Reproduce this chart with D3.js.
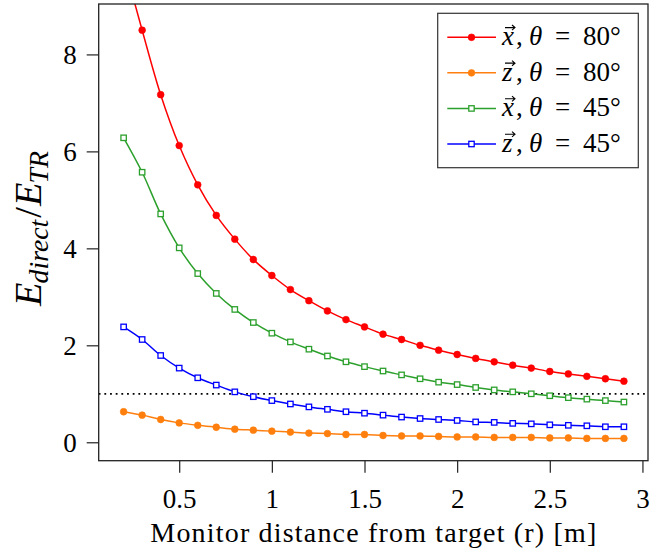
<!DOCTYPE html>
<html>
<head>
<meta charset="utf-8">
<script src="https://cdn.jsdelivr.net/npm/d3@7"></script>
<style>
  html, body { margin: 0; padding: 0; background: #fff; }
  svg { display: block; }
  text { font-family: "Liberation Serif", "DejaVu Serif", serif; fill: #000; }
</style>
</head>
<body>
<svg id="chart" width="671" height="553"></svg>
<script>
// ---------------- data ----------------
const distances = [0.2, 0.3, 0.4, 0.5, 0.6, 0.7, 0.8, 0.9, 1.0, 1.1, 1.2, 1.3, 1.4, 1.5,
                   1.6, 1.7, 1.8, 1.9, 2.0, 2.1, 2.2, 2.3, 2.4, 2.5, 2.6, 2.7, 2.8, 2.9];
const xTheta80 = [9.9, 8.50, 7.17, 6.12, 5.31, 4.68, 4.19, 3.77, 3.44, 3.15, 2.92, 2.71, 2.53, 2.38,
                  2.23, 2.12, 2.00, 1.90, 1.81, 1.73, 1.66, 1.59, 1.53, 1.46, 1.41, 1.36, 1.31, 1.26];
const zTheta80 = [0.63, 0.56, 0.47, 0.40, 0.35, 0.31, 0.27, 0.25, 0.23, 0.21, 0.19, 0.18, 0.16, 0.16,
                  0.14, 0.13, 0.13, 0.12, 0.11, 0.11, 0.10, 0.10, 0.10, 0.09, 0.09, 0.08, 0.08, 0.08];
const xTheta45 = [6.28, 5.57, 4.71, 4.01, 3.48, 3.07, 2.74, 2.47, 2.25, 2.07, 1.92, 1.78, 1.66, 1.56,
                  1.47, 1.39, 1.31, 1.24, 1.19, 1.13, 1.08, 1.04, 1.00, 0.96, 0.92, 0.89, 0.86, 0.83];
const zTheta45 = [2.38, 2.12, 1.79, 1.53, 1.33, 1.18, 1.04, 0.94, 0.86, 0.79, 0.73, 0.68, 0.63, 0.60,
                  0.56, 0.52, 0.49, 0.47, 0.45, 0.42, 0.41, 0.39, 0.38, 0.36, 0.35, 0.34, 0.32, 0.32];
const referenceLevel = 1;
const xTicks = [0.5, 1, 1.5, 2, 2.5, 3];
const xTickLabels = ["0.5", "1", "1.5", "2", "2.5", "3"];
const yTicks = [0, 2, 4, 6, 8];
const yTickLabels = ["0", "2", "4", "6", "8"];
const seriesNames = [
  {vec: "x", theta: "80"},
  {vec: "z", theta: "80"},
  {vec: "x", theta: "45"},
  {vec: "z", theta: "45"}
];
const seriesColors = ["#ff0000", "#ff7f0e", "#2ca02c", "#0000ff"];
const seriesMarkers = ["circle", "circle", "square", "square"];
const seriesValues = [xTheta80, zTheta80, xTheta45, zTheta45];
const xDomain = [0.0655, 3.03];
const yDomain = [-0.38, 9.04];
const xLabelText = "Monitor distance from target (r) [m]";

// ---------------- layout ----------------
const svg = d3.select("#chart");
const plot = {left: 98.7, right: 648, top: 4, bottom: 460.7};

const x = d3.scaleLinear().domain(xDomain).range([plot.left, plot.right]);
const y = d3.scaleLinear().domain(yDomain).range([plot.bottom, plot.top]);

svg.append("defs").append("clipPath").attr("id", "clip")
  .append("rect")
  .attr("x", plot.left).attr("y", plot.top)
  .attr("width", plot.right - plot.left).attr("height", plot.bottom - plot.top);

// reference dotted line
svg.append("line")
  .attr("x1", plot.left).attr("x2", plot.right)
  .attr("y1", y(referenceLevel)).attr("y2", y(referenceLevel))
  .attr("stroke", "#000").attr("stroke-width", 1.8)
  .attr("stroke-dasharray", "1.8 3.87");

const dataG = svg.append("g").attr("clip-path", "url(#clip)");
const line = d3.line().curve(d3.curveCatmullRom.alpha(0.5))
  .x(d => x(d[0])).y(d => y(d[1]));

function drawMarker(g, type, cx, cy, color) {
  if (type === "circle") {
    g.append("circle").attr("cx", cx).attr("cy", cy).attr("r", 3.4)
      .attr("fill", color).attr("stroke", color).attr("stroke-width", 0.6);
  } else {
    const s = 5.4;
    g.append("rect").attr("x", cx - s / 2).attr("y", cy - s / 2)
      .attr("width", s).attr("height", s)
      .attr("fill", "#fff").attr("stroke", color).attr("stroke-width", 1.3);
  }
}

seriesValues.forEach((vals, i) => {
  const pts = distances.map((d, k) => [d, vals[k]]);
  dataG.append("path").datum(pts)
    .attr("d", line)
    .attr("fill", "none")
    .attr("stroke", seriesColors[i])
    .attr("stroke-width", 1.5);
  const mg = dataG.append("g");
  pts.forEach(p => drawMarker(mg, seriesMarkers[i], x(p[0]), y(p[1]), seriesColors[i]));
});

// frame
svg.append("rect")
  .attr("x", plot.left).attr("y", plot.top)
  .attr("width", plot.right - plot.left).attr("height", plot.bottom - plot.top)
  .attr("fill", "none").attr("stroke", "#222").attr("stroke-width", 1.3);

// axes
const xAxis = d3.axisBottom(x).tickValues(xTicks)
  .tickFormat((d, i) => xTickLabels[i]).tickSize(12).tickPadding(8);
const gx = svg.append("g").attr("transform", `translate(0,${plot.bottom})`).call(xAxis);
gx.select(".domain").remove();
gx.selectAll(".tick line").attr("stroke", "#222").attr("stroke-width", 1.2);
gx.selectAll(".tick text").attr("font-size", 27).attr("font-family", "Liberation Serif").attr("dy", "1.0em");

const yAxis = d3.axisLeft(y).tickValues(yTicks)
  .tickFormat((d, i) => yTickLabels[i]).tickSize(12).tickPadding(10);
const gy = svg.append("g").attr("transform", `translate(${plot.left},0)`).call(yAxis);
gy.select(".domain").remove();
gy.selectAll(".tick line").attr("stroke", "#222").attr("stroke-width", 1.2);
gy.selectAll(".tick text").attr("font-size", 27).attr("font-family", "Liberation Serif").attr("dy", "0.34em");

// x label, widened with letter spacing to the reference's extent
const xl = svg.append("text")
  .attr("x", (plot.left + plot.right) / 2).attr("y", 542)
  .attr("text-anchor", "middle").attr("font-size", 28)
  .text(xLabelText);
{
  const w = xl.node().getComputedTextLength();
  const target = 446;
  const ls = (target - w) / (xLabelText.length - 1);
  xl.attr("letter-spacing", ls).attr("x", (plot.left + plot.right) / 2 + ls / 2);
}

// y label: E_direct / E_TR
const yl = svg.append("text")
  .attr("transform", "translate(40.5,228.5) rotate(-90)")
  .attr("text-anchor", "middle").attr("font-size", 36);
yl.append("tspan").attr("font-style", "italic").text("E");
yl.append("tspan").attr("font-style", "italic").attr("font-size", 26).attr("dy", 7).attr("dx", -1).text("direct");
yl.append("tspan").attr("dy", -7).attr("dx", 2).text("/");
yl.append("tspan").attr("font-style", "italic").attr("dx", 1).text("E");
yl.append("tspan").attr("font-style", "italic").attr("font-size", 26).attr("dy", 7).attr("dx", -1).text("TR");
{
  const len = yl.node().getComputedTextLength();
  const k = 154 / len;
  yl.attr("font-size", 36 * k);
  yl.selectAll("tspan").each(function() {
    const t = d3.select(this);
    if (t.attr("font-size")) t.attr("font-size", +t.attr("font-size") * k);
  });
}

// legend
const legend = svg.append("g");
legend.append("rect")
  .attr("x", 437.7).attr("y", 13.3).attr("width", 200.6).attr("height", 154.4)
  .attr("fill", "#fff").attr("stroke", "#333").attr("stroke-width", 1.2);
const legendRowY = d3.scalePoint().domain(d3.range(seriesNames.length)).range([37.3, 144]);
seriesNames.forEach((s, i) => {
  const cy = legendRowY(i);
  const row = legend.append("g");
  row.append("line").attr("x1", 447.3).attr("x2", 496).attr("y1", cy).attr("y2", cy)
    .attr("stroke", seriesColors[i]).attr("stroke-width", 1.5);
  drawMarker(row, seriesMarkers[i], 471.5, cy, seriesColors[i]);
  const base = cy + 7.8;
  const fs = 27;
  const x0 = 502;
  const t = row.append("text").attr("y", base).attr("font-size", fs);
  t.append("tspan").attr("x", x0).attr("font-style", "italic").text(s.vec);
  t.append("tspan").attr("x", x0 + 14).text(",");
  t.append("tspan").attr("x", x0 + 27).attr("font-style", "italic").text("\u03B8");
  t.append("tspan").attr("x", x0 + 53).text("=");
  t.append("tspan").attr("x", x0 + 81).text(s.theta + "\u00B0");
  // vector arrow above the letter
  const ay = base - 17.5, ax0 = x0 + 3, ax1 = x0 + 13;
  row.append("path")
    .attr("d", `M${ax0},${ay}L${ax1},${ay}M${ax1 - 3},${ay - 2.6}L${ax1},${ay}L${ax1 - 3},${ay + 2.6}`)
    .attr("fill", "none").attr("stroke", "#000").attr("stroke-width", 1.1);
});
</script>
</body>
</html>
